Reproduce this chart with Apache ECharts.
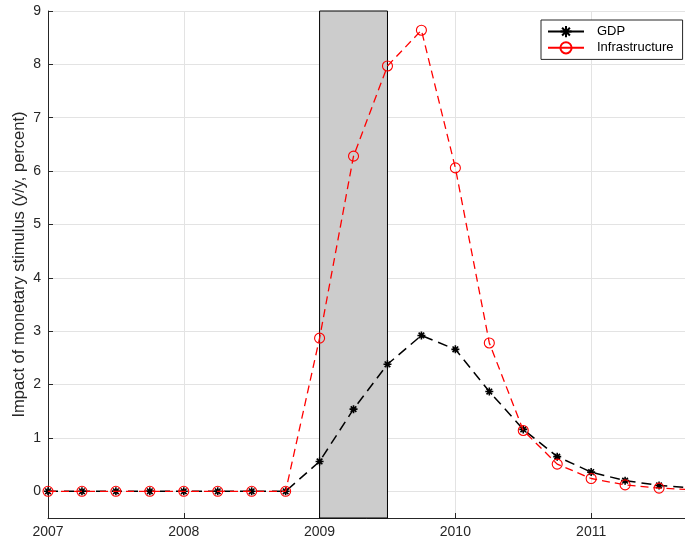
<!DOCTYPE html>
<html><head><meta charset="utf-8">
<script src="https://cdn.jsdelivr.net/npm/echarts@6/dist/echarts.min.js"></script>
<style>html,body{margin:0;padding:0;background:#fff}#c{width:685px;height:543px}</style>
</head><body><div id="c"></div>
<script>
const quarters = [2007,2007.25,2007.5,2007.75,2008,2008.25,2008.5,2008.75,2009,2009.25,2009.5,2009.75,2010,2010.25,2010.5,2010.75,2011,2011.25,2011.5,2011.75];
const gdp = [0,0,0,0,0,0,0,0,0.56,1.54,2.38,2.92,2.66,1.87,1.16,0.65,0.36,0.2,0.11,0.06];
const infra = [0,0,0,0,0,0,0,0,2.87,6.28,7.97,8.64,6.06,2.78,1.14,0.51,0.24,0.12,0.06,0.03];
const yTicks = [0,1,2,3,4,5,6,7,8,9];
const shade = [2009, 2009.5];
const seriesNames = ['GDP','Infrastructure'];
const yTitle = 'Impact of monetary stimulus (y/y, percent)';

const asterisk = 'path://M0,5L10,5M5,0L5,10M1.5,1.5L8.5,8.5M1.5,8.5L8.5,1.5';
const font = 'Liberation Sans, Arial, Helvetica, sans-serif';
const chart = echarts.init(document.getElementById('c'));
chart.setOption({
  animation: false,
  grid: {left: 48, right: -8, top: 11, bottom: 25, containLabel: false, outerBoundsMode: 'none'},
  legend: {
    orient: 'vertical', left: 541, top: 20,
    itemWidth: 36, itemHeight: 14, itemGap: 3,
    padding: [5, 9, 5, 6],
    borderColor: '#262626', borderWidth: 1, backgroundColor: '#fff',
    textStyle: {fontFamily: font, fontSize: 13, color: '#000', padding: [0, 0, 0, 8]},
    data: [
      {name: seriesNames[0], lineStyle: {type: 'solid'}},
      {name: seriesNames[1], lineStyle: {type: 'solid'}}
    ]
  },
  xAxis: {
    type: 'value', min: 2007, max: 2011.75, interval: 1,
    axisLine: {show: true, onZero: false, lineStyle: {color: '#262626', width: 1}},
    axisTick: {show: true, inside: true, length: 5, lineStyle: {color: '#262626'}},
    axisLabel: {color: '#262626', fontFamily: font, fontSize: 14, margin: 7,
      formatter: v => (Number.isInteger(v) ? String(v) : '')},
    splitLine: {show: true, lineStyle: {color: '#e3e3e3', width: 1}}
  },
  yAxis: {
    type: 'value', min: -0.5, max: 9,
    name: yTitle, nameLocation: 'middle', nameGap: 20, nameRotate: 90, nameMoveOverlap: false,
    nameTextStyle: {fontFamily: font, fontSize: 16.5, color: '#262626'},
    axisLine: {show: true, onZero: false, lineStyle: {color: '#262626', width: 1}},
    axisTick: {show: true, inside: true, length: 5, customValues: yTicks, lineStyle: {color: '#262626'}},
    axisLabel: {color: '#262626', fontFamily: font, fontSize: 14, margin: 7, customValues: yTicks},
    splitLine: {show: true, lineStyle: {color: '#e3e3e3', width: 1}}
  },
  series: [
    {
      type: 'line', name: '__shade', data: [], z: 1, silent: true,
      markArea: {
        silent: true,
        itemStyle: {color: '#cccccc', borderColor: '#000', borderWidth: 1},
        data: [[{xAxis: shade[0]}, {xAxis: shade[1]}]]
      }
    },
    {
      type: 'line', name: seriesNames[0], z: 3,
      data: quarters.map((q, i) => [q, gdp[i]]),
      symbol: asterisk, symbolSize: 8, showAllSymbol: true,
      lineStyle: {color: '#000', width: 1.5, type: [10, 6]},
      itemStyle: {color: 'transparent', borderColor: '#000', borderWidth: 1.6}
    },
    {
      type: 'line', name: seriesNames[1], z: 4,
      data: quarters.map((q, i) => [q, infra[i]]),
      symbol: 'circle', symbolSize: 10, showAllSymbol: true,
      lineStyle: {color: '#ff0000', width: 1.3, type: [8, 5]},
      itemStyle: {color: 'rgba(255,255,255,0)', borderColor: '#ff0000', borderWidth: 1.1}
    }
  ]
});
</script></body></html>
